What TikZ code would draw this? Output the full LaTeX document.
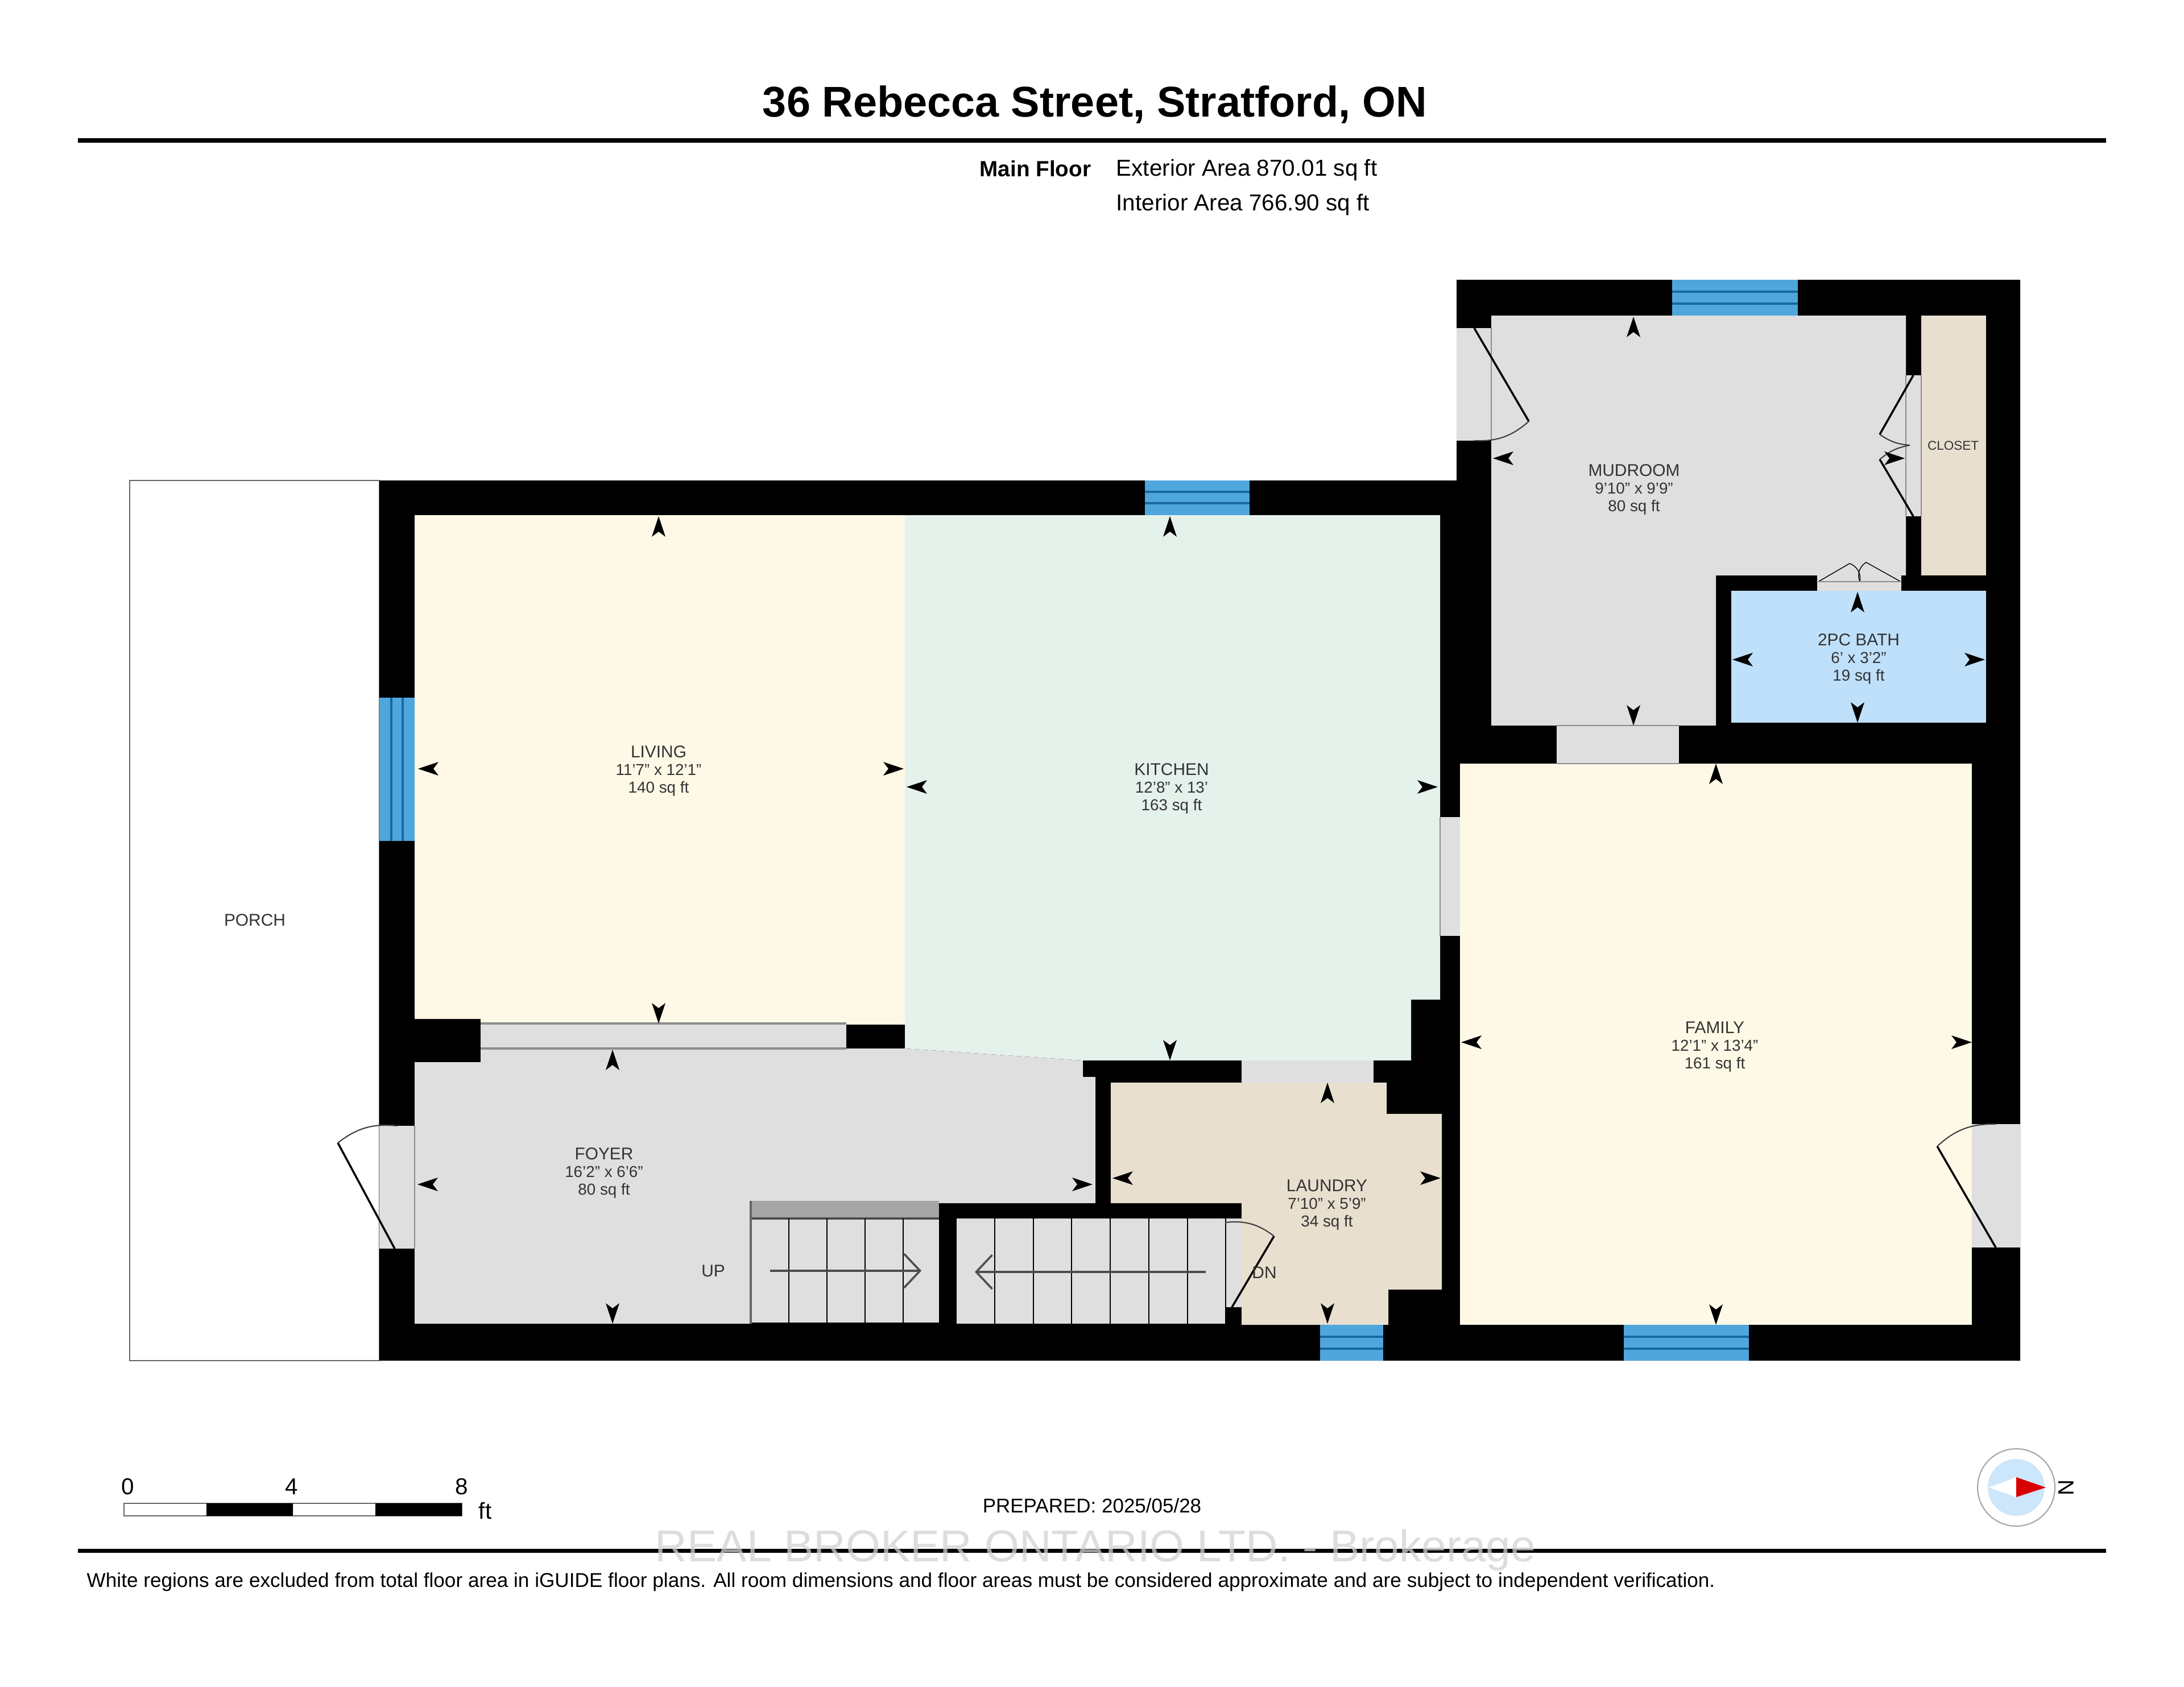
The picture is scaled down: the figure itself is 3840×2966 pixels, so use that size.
\documentclass[tikz,border=0pt]{standalone}
\usepackage{fontspec}
\setmainfont{Liberation Sans}
\usetikzlibrary{arrows.meta}
\definecolor{creamfill}{HTML}{FEF9E6}
\definecolor{greenfill}{HTML}{E5F2EC}
\definecolor{greyfill}{HTML}{DFDFDF}
\definecolor{tanfill}{HTML}{E8DFCF}
\definecolor{bathfill}{HTML}{BFE0FA}
\definecolor{glassfill}{HTML}{4FA6DC}
\definecolor{glassline}{HTML}{17699F}
\newcommand{\roomtext}[3]{#1\\{\fontsize{7.9}{8.9}\selectfont #2}\\{\fontsize{7.9}{8.9}\selectfont #3}}
\tikzset{every node/.style={align=center, inner sep=0pt},
  roomlabel/.style={font=\fontsize{8.5}{8.9}\selectfont, text=black!80},
  smalllabel/.style={font=\fontsize{6.4}{7}\selectfont, text=black!80},
  headlabel/.style={font=\fontsize{11.5}{12}\selectfont},
  scalelabel/.style={font=\fontsize{11.5}{12}\selectfont},
  door/.style={draw=black, line width=1pt},
  doorarc/.style={draw=black!75, line width=0.6pt},
  jamb/.style={draw=black!45, line width=0.5pt},
  gapfill/.style={fill=greyfill},
  stairarrow/.style={draw=black!70, line width=1pt, -{Straight Barb[length=8pt,width=17pt]}},
  dimtip/.pic={\fill[black] (0,0) -- (-12,36) -- (0,27) -- (12,36) -- cycle;}}

\begin{document}
\begin{tikzpicture}[x=0.01cm, y=-0.01cm]
  \useasboundingbox (0,0) rectangle (3840,2966);
  % header
  \node (title) at (1925,184) {\fontsize{21.5}{24}\selectfont\bfseries 36 Rebecca Street, Stratford, ON};
  \draw[line width=2pt] (137,247) -- (3703,247);
  \node [anchor=west] (floorname) at (1722,297) {\fontsize{11}{12}\selectfont\bfseries Main Floor};
  \node [headlabel, anchor=west] (exterior) at (1962,299) {Exterior Area 870.01 sq ft};
  \node [headlabel, anchor=west] (interior) at (1962,360) {Interior Area 766.90 sq ft};
  % porch and walls
  \draw[draw=black!60, fill=white, line width=0.6pt] (228,845) rectangle (667,2393);
  \fill[black] (667,845) -- (2561,845) -- (2561,492) -- (3552,492) -- (3552,2393) -- (667,2393) -- cycle;
  % rooms
  \fill[creamfill] (729,906) -- (1591,906) -- (1591,1802) -- (845,1800) -- (845,1792) -- (729,1792) -- cycle;
  \fill[greenfill] (1591,906) -- (2532,906) -- (2532,1758) -- (2481,1758) -- (2481,1865) -- (1904,1865) -- (1591,1844) -- cycle;
  \fill[greyfill] (729,1868) -- (845,1868) -- (845,1844) -- (1591,1844) -- (1904,1865) -- (1904,1894) -- (1926,1894) -- (1926,2116) -- (1320,2116) -- (1320,2328) -- (729,2328) -- cycle;
  \fill[tanfill] (1953,1904) -- (2438,1904) -- (2438,1959) -- (2535,1959) -- (2535,2268) -- (2441,2268) -- (2441,2330) -- (2183,2330) -- (2183,2116) -- (1953,2116) -- cycle;
  \fill[creamfill] (2567,1343) rectangle (3467,2330);
  \fill[greyfill] (2622,555) -- (3351,555) -- (3351,1012) -- (3017,1012) -- (3017,1276) -- (2622,1276) -- cycle;
  \fill[tanfill] (3378,555) rectangle (3492,1012);
  \fill[bathfill] (3044,1039) rectangle (3492,1271);
  % openings
  \fill[gapfill] (845,1800) rectangle (1488,1844);
  \draw[jamb, line width=1pt] (845,1800) -- (1488,1800) (845,1844) -- (1488,1844);
  \fill[gapfill] (2183,1865) rectangle (2415,1904);
  \fill[gapfill] (2532,1437) rectangle (2567,1646);
  \draw[jamb] (2532,1437) -- (2532,1646);
  \fill[gapfill] (2737,1276) rectangle (2952,1343);
  \draw[jamb] (2737,1276) -- (2952,1276) (2737,1343) -- (2952,1343);
  \fill[gapfill] (3195,1012) rectangle (3343,1039);
  \fill[gapfill] (3351,660) rectangle (3378,908);
  \draw[jamb] (3351,660) -- (3351,908) (3378,660) -- (3378,908);
  \fill[gapfill] (2561,577) rectangle (2622,775);
  \draw[jamb] (2622,577) -- (2622,775);
  \fill[gapfill] (667,1980) rectangle (729,2196);
  \draw[jamb] (729,1980) -- (729,2196);
  \fill[gapfill] (3467,1977) rectangle (3552,2194);
  \fill[gapfill] (2155,2143) rectangle (2183,2299);
  % windows
  \foreach \xa/\xb/\ya/\yc/\yd/\yb in {2013/2197/845/865/885/906, 2940/3161/492/513/534/555, 2321/2432/2330/2351/2372/2393, 2855/3075/2330/2351/2372/2393} {
    \fill[glassfill] (\xa,\ya) rectangle (\xb,\yb);
    \draw[glassline, line width=1pt] (\xa,\yc) -- (\xb,\yc) (\xa,\yd) -- (\xb,\yd);
  }
  \fill[glassfill] (667,1227) rectangle (729,1479);
  \draw[glassline, line width=1pt] (688,1227) -- (688,1479) (708,1227) -- (708,1479);
  % doors
  \draw[door] (2592,577) -- (2688,741);
  \draw[doorarc] (2688,741) to[bend left=22] (2592,775);
  \draw[door] (3364,660) -- (3305,764);
  \draw[doorarc] (3305,764) to[bend right=15] (3358,783);
  \draw[door] (3364,908) -- (3305,808);
  \draw[doorarc] (3305,808) to[bend left=15] (3358,783);
  \draw[door, line width=0.4pt] (3197,1023) -- (3252,991) to[bend left=40] (3270,1023);
  \draw[door, line width=0.4pt] (3342,1023) -- (3281,989) to[bend right=40] (3270,1023);
  \draw[jamb] (3197,1023) -- (3342,1023);
  \draw[door] (694,2196) -- (594,2010);
  \draw[doorarc] (594,2010) to[bend left=22] (698,1980);
  \draw[door] (3509,2194) -- (3406,2016);
  \draw[doorarc] (3406,2016) to[bend left=22] (3509,1977);
  % stairs
  \fill[black!35] (1320,2112) rectangle (1651,2143);
  \fill[greyfill] (1320,2143) rectangle (1651,2326);
  \draw[black!70, line width=1pt] (1320,2143) -- (1651,2143);
  \draw[black!60, line width=1pt] (1320,2112) -- (1320,2328);
  \foreach \xstep in {1387,1454,1521,1588} { \draw[black, line width=0.8pt] (\xstep,2143) -- (\xstep,2326); }
  \fill[greyfill] (1682,2143) rectangle (2155,2328);
  \foreach \xstep in {1749,1817,1884,1952,2020,2088,2155} { \draw[black, line width=0.8pt] (\xstep,2143) -- (\xstep,2328); }
  \coordinate (upstart) at (1354,2235);
  \coordinate (uptip) at (1620,2235);
  \coordinate (dnstart) at (2120,2237);
  \coordinate (dntip) at (1714,2237);
  \draw[stairarrow] (upstart) -- (uptip);
  \draw[stairarrow] (dnstart) -- (dntip);
  \draw[door] (2166,2299) -- (2240,2174);
  \draw[doorarc] (2240,2174) to[bend right=22] (2154,2150);
  % dimension tips
  \foreach \x/\y/\a in {1158/908/0, 1158/1800/180, 735/1352/90, 1589/1352/270,
      2057/908/0, 2057/1865/180, 1594/1384/90, 2528/1384/270,
      1077/1846/0, 1077/2328/180, 734/2083/90, 1921/2083/270,
      2334/1904/0, 2334/2328/180, 1956/2072/90, 2533/2072/270,
      3017/1343/0, 3017/2330/180, 2569/1833/90, 3467/1833/270,
      2872/557/0, 2872/1276/180, 2625/806/90, 3349/806/270,
      3266/1041/0, 3266/1271/180, 3046/1160/90, 3490/1160/270} {
    \pic[rotate=\a] at (\x,\y) {dimtip};
  }
  % room labels
  \node [roomlabel] (living) at (1158,1356) {\roomtext{LIVING}{11'7" x 12'1"}{140 sq ft}};
  \node [roomlabel] (kitchen) at (2060,1387) {\roomtext{KITCHEN}{12'8" x 13'}{163 sq ft}};
  \node [roomlabel] (foyer) at (1062,2063) {\roomtext{FOYER}{16'2" x 6'6"}{80 sq ft}};
  \node [roomlabel] (laundry) at (2333,2119) {\roomtext{LAUNDRY}{7'10" x 5'9"}{34 sq ft}};
  \node [roomlabel] (family) at (3015,1841) {\roomtext{FAMILY}{12'1" x 13'4"}{161 sq ft}};
  \node [roomlabel] (mudroom) at (2873,861) {\roomtext{MUDROOM}{9'10" x 9'9"}{80 sq ft}};
  \node [roomlabel] (bath) at (3268,1159) {\roomtext{2PC BATH}{6' x 3'2"}{19 sq ft}};
  \node [smalllabel] (closet) at (3434,784) {CLOSET};
  \node [roomlabel] (porch) at (448,1618) {PORCH};
  \node [roomlabel] (uplabel) at (1254,2235) {UP};
  \node [roomlabel] (dnlabel) at (2223,2238) {DN};
  % scale bar
  \draw[black!60, fill=white, line width=0.5pt] (218,2644) rectangle (812,2666);
  \fill[black] (363,2644) rectangle (515,2666) (660,2644) rectangle (812,2666);
  \node [scalelabel] (scalezero) at (225,2615) {0};
  \node [scalelabel] (scalefour) at (513,2615) {4};
  \node [scalelabel] (scaleeight) at (812,2615) {8};
  \node [scalelabel] (scaleunit) at (853,2657) {ft};
  \node (prepared) at (1920,2648) {\fontsize{9.95}{11}\selectfont PREPARED: 2025/05/28};
  % north mark
  \draw[draw=black!35, fill=white, line width=0.6pt] (3545,2616) circle (68);
  \fill[bathfill!80!white] (3545,2616) circle (50);
  \fill[white] (3497,2616) -- (3545,2598) -- (3545,2633) -- cycle;
  \fill[red!85!black] (3545,2598) -- (3597,2616) -- (3545,2633) -- cycle;
  \node [rotate=-90, font=\fontsize{11}{12}\selectfont] (north) at (3633,2616) {N};
  % footer
  \draw[line width=2pt] (137,2727) -- (3703,2727);
  \node [opacity=0.75, text=black!18] (watermark) at (1926,2726) {\fontsize{22.3}{24}\selectfont REAL BROKER ONTARIO LTD. - Brokerage};
  \node [anchor=west] (disclaimer) at (152,2782) {\fontsize{10}{11}\selectfont White regions are excluded from total floor area in iGUIDE floor plans. All room dimensions and floor areas must be considered approximate and are subject to independent verification.};
\end{tikzpicture}
\end{document}
